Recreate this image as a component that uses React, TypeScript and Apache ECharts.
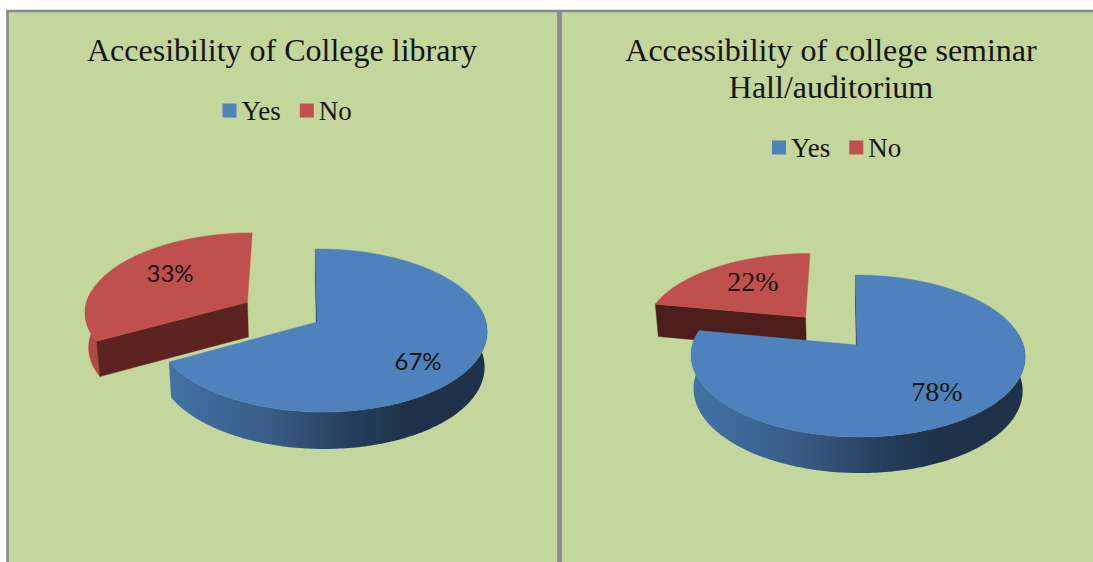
import React, { useEffect, useRef } from "react";
import * as echarts from "echarts";

const categories = ["Yes", "No"];
const libraryShares = [67, 33];
const seminarShares = [78, 22];
const libraryTitle = "Accesibility of College library";
const seminarTitle = "Accessibility of college seminar\nHall/auditorium";

const SERIF = "Liberation Serif";
const INK = "#151515";
const YES_TOP = "#4f81bd";
const NO_TOP = "#c0504d";
const SLICE_TOP = [YES_TOP, NO_TOP];

// Perspective and layout of each exploded 3D pie.
const libraryPie = {
  shares: libraryShares,
  cx: 317, cy: 322, a: 165, b: 80.6, k: 0.1043, shear: 1.8, depth: 35,
  explode: [[0, 0], [-0.43, -0.25]],
  lean: [0.0236, 0],
  labelAt: [[418, 360], [170, 272]],
  labelFont: "Lato", labelSize: 24,
  cutDark: "#5c2320",
};
const seminarPie = {
  shares: seminarShares,
  cx: 857, cy: 345, a: 165.5, b: 79.5, k: 0.1358, shear: 1.8, depth: 33.5,
  explode: [[0, 0], [-0.322, -0.365]],
  lean: [0.005, 0],
  labelAt: [[937, 391], [753, 281]],
  labelFont: SERIF, labelSize: 28,
  cutDark: "#4d1d1b",
};

const blueRim = {
  type: "linear", x: 0, y: 0, x2: 1, y2: 0,
  colorStops: [
    { offset: 0, color: "#4272a6" },
    { offset: 0.32, color: "#385c86" },
    { offset: 0.58, color: "#253d5c" },
    { offset: 0.75, color: "#1f3249" },
    { offset: 1, color: "#1f3249" },
  ],
};

// Rim points further back than this, on the unit disc, are hidden behind the top face.
const RIM_FRONT_LIMIT = -0.15;

function sliceRenderer(pie: any, index: number) {
  return (_params: any, api: any) => {
    const value = api.value(0);
    const total = pie.shares.reduce((s: number, v: number) => s + v, 0);
    const before = pie.shares.slice(0, index).reduce((s: number, v: number) => s + v, 0);
    const startDeg = (before / total) * 360;
    const endDeg = ((before + value) / total) * 360;
    const [ex, ey] = pie.explode[index];
    const lean = pie.lean[index];

    // Disc coordinates to screen, for the top face and for the lower rim.
    const top = (X: number, Y: number) => {
      const w = 1 / (1 - pie.k * Y - lean * X);
      return { x: pie.cx + (pie.a * X + pie.shear * Y) * w, y: pie.cy + pie.b * Y * w, w };
    };
    const upper = (X: number, Y: number) => {
      const p = top(X, Y);
      return [p.x, p.y];
    };
    const lower = (X: number, Y: number) => {
      const p = top(X, Y);
      return [pie.cx + (p.x - pie.cx) * 0.985, p.y + pie.depth * Math.sqrt(p.w)];
    };

    const rim: number[][] = [];
    const steps = Math.ceil(endDeg - startDeg);
    for (let i = 0; i <= steps; i++) {
      const t = ((startDeg + ((endDeg - startDeg) * i) / steps) * Math.PI) / 180;
      rim.push([ex + Math.sin(t), ey - Math.cos(t)]);
    }

    const face = (points: number[][], fill: any) => ({
      type: "polygon",
      shape: { points },
      style: { fill, stroke: typeof fill === "string" ? fill : undefined, lineWidth: 0.4 },
    });

    const frontRim = rim.filter(([, Y]) => Y - ey > RIM_FRONT_LIMIT);
    const wall = [...frontRim.map(([X, Y]) => upper(X, Y)), ...frontRim.slice().reverse().map(([X, Y]) => lower(X, Y))];
    const cut = (edge: number[]) => [upper(ex, ey), upper(edge[0], edge[1]), lower(edge[0], edge[1]), lower(ex, ey)];

    const children: any[] = [];
    if (frontRim.length > 1) children.push(face(wall, index === 0 ? blueRim : "#b04946"));
    // The cut face at the slice's start angle is the one turned towards the viewer.
    children.push(face(cut(rim[0]), index === 0 ? "#1f3249" : pie.cutDark));
    children.push(face([upper(ex, ey), ...rim.map(([X, Y]) => upper(X, Y))], SLICE_TOP[index]));
    children.push({
      type: "text",
      x: pie.labelAt[index][0],
      y: pie.labelAt[index][1],
      style: {
        text: `${value}%`,
        fontFamily: pie.labelFont,
        fontSize: pie.labelSize,
        fill: INK,
        align: "center",
        verticalAlign: "middle",
      },
    });
    return { type: "group", children };
  };
}

function pieSeries(pie: any) {
  // The "No" slice goes first so that "Yes" overlaps it.
  return [1, 0].map((i) => ({
    type: "custom",
    name: categories[i],
    coordinateSystem: "none",
    itemStyle: { color: SLICE_TOP[i] },
    data: [[pie.shares[i]]],
    renderItem: sliceRenderer(pie, i),
  }));
}

function panel(x: number, width: number) {
  return {
    type: "rect",
    z: 0,
    shape: { x, y: 11, width, height: 620 },
    style: { fill: "#c3d69b", stroke: "#8a8a8a", lineWidth: 2.6 },
  };
}

function legendAt(left: number, top: number) {
  return {
    left,
    top,
    orient: "horizontal",
    data: categories,
    icon: "rect",
    itemWidth: 14,
    itemHeight: 14,
    itemGap: 19,
    selectedMode: false,
    padding: 0,
    textStyle: { fontFamily: SERIF, fontSize: 27, color: INK },
  };
}

function titleAt(text: string, left: number) {
  return {
    text,
    left,
    top: 31,
    textAlign: "center",
    padding: 0,
    textStyle: { fontFamily: SERIF, fontWeight: "normal", fontSize: 32, lineHeight: 37, color: INK },
  };
}

export default function App() {
  const ref = useRef<HTMLDivElement>(null);

  useEffect(() => {
    const chart = echarts.init(ref.current!, undefined, { renderer: "svg" });
    chart.setOption({
      animation: false,
      backgroundColor: "#ffffff",
      title: [titleAt(libraryTitle, 282), titleAt(seminarTitle, 831)],
      legend: [legendAt(222.5, 97), legendAt(772, 134)],
      graphic: [panel(7.5, 551), panel(560.5, 560)],
      series: [...pieSeries(libraryPie), ...pieSeries(seminarPie)],
    });
    return () => chart.dispose();
  }, []);

  return (
    <div
      ref={ref}
      style={{ position: "fixed", left: 0, top: 0, width: 1093, height: 562 }}
    />
  );
}
